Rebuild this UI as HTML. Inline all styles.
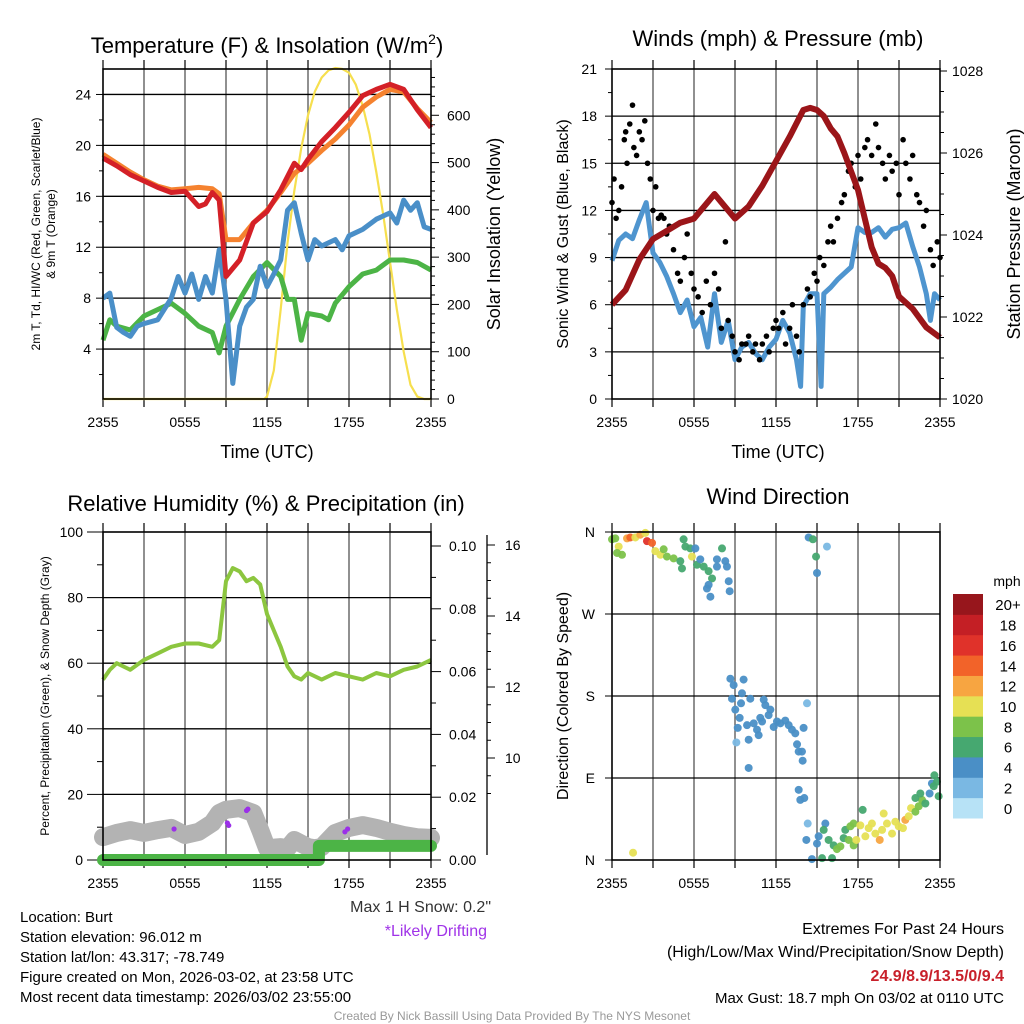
<!DOCTYPE html>
<html><head><meta charset="utf-8"><style>
html,body{margin:0;padding:0;background:#fff;}
svg{display:block;font-family:"Liberation Sans",Arial,sans-serif;}
</style></head><body>
<svg id="root" width="1024" height="1024" viewBox="0 0 1024 1024" xmlns="http://www.w3.org/2000/svg">
<rect width="1024" height="1024" fill="#fff"/>
</svg>
<script>
// ---------- DATA ----------
const tempT=[0,1,2,3,4,5,6,7,7.5,8,8.5,9,10,11,12,13,14,14.5,15,16,17,18,19,20,21,22,23,24];
const tempV=[19.0,18.4,17.7,17.2,16.7,16.3,16.4,15.2,15.4,16.3,15.7,9.7,11.0,13.9,14.8,16.5,18.6,18.1,18.9,20.3,21.4,22.6,23.9,24.4,24.8,24.4,22.8,21.4];
const t9T=[0,1,2,3,4,5,6,7,8,8.5,9,10,11,12,13,14,15,16,17,18,19,20,21,22,23,24];
const t9V=[19.3,18.6,17.9,17.3,16.8,16.5,16.6,16.7,16.6,16.2,12.6,12.6,13.9,14.9,16.3,17.8,18.6,19.6,20.5,21.6,23.0,23.8,24.4,24.2,22.9,21.8];
const tdT=[0,0.5,1,1.5,2,2.5,3,4,5,5.5,6,6.5,7,7.5,8,8.5,9,9.5,10,10.5,11,11.5,12,12.5,13,13.5,14,14.5,15,15.5,16,17,17.5,18,19,20,21,21.5,22,22.5,23,23.5,24];
const tdV=[8.0,8.4,5.7,5.3,5.0,5.8,6.0,6.3,8.0,9.7,8.4,9.9,7.9,9.7,8.4,11.8,7.9,1.3,5.8,7.3,7.9,10.5,8.9,9.9,11.0,14.9,15.5,13.1,11.0,12.6,12.1,12.6,11.8,12.9,13.4,14.2,14.7,13.9,15.7,14.9,15.5,13.6,13.4];
const hiT=[0,0.5,1,2,3,4,5,6,7,8,8.5,9,10,11,12,13,13.5,14,14.5,15,16,16.5,17,18,19,20,21,22,23,24];
const hiV=[4.7,6.3,5.8,5.5,6.6,7.1,7.6,6.8,5.8,5.3,3.7,5.8,7.9,9.7,10.8,9.7,7.9,7.9,4.7,6.8,6.6,6.3,7.6,8.9,9.9,10.2,11.0,11.0,10.8,10.2];
const solT=[0,11.8,12,12.5,13,13.5,14,14.5,15,15.5,16,16.5,17,17.5,18,18.5,19,19.5,20,20.5,21,21.5,22,22.5,23,23.5,24];
const solV=[0,0,5,60,190,330,440,530,600,650,680,695,700,698,690,665,620,560,480,390,290,190,100,30,5,0,0];
const presT=[0,1,2,3,4,5,6,7,7.5,8,9,10,11,12,13,14,14.5,15,15.5,16,16.5,17,18,18.5,19,19.5,20,20.5,21,22,23,24];
const presV=[1022.3,1022.66,1023.4,1023.9,1024.1,1024.3,1024.4,1024.8,1025.0,1024.8,1024.4,1024.7,1025.2,1025.8,1026.4,1027.05,1027.1,1027.05,1026.9,1026.6,1026.4,1026.0,1025.1,1024.4,1023.7,1023.3,1023.2,1023.0,1022.5,1022.2,1021.75,1021.5];
const windT=[0,0.5,1,1.5,2,2.5,3,3.5,4,4.5,5,5.5,6,6.5,7,7.5,8,8.5,9,9.5,10,10.5,11,11.5,12,12.5,13,13.5,13.8,14,14.5,15,15.3,15.5,16,16.5,17,17.5,18,18.5,19,19.5,20,20.5,21,21.5,22,22.5,23,23.3,23.6,24];
const windV=[8.8,10.1,10.5,10.2,11.4,12.5,9.3,8.7,7.8,6.7,5.5,6.3,4.6,5.2,3.3,6.7,3.6,5.0,2.5,3.3,3.6,2.9,2.5,3.3,3.8,5.0,4.2,2.5,0.8,5.9,6.7,6.7,0.8,6.7,7.1,7.6,8.0,8.4,10.9,10.6,10.6,10.9,10.3,10.8,10.9,11.2,9.7,8.4,6.7,5.0,6.7,6.3];
const gustT=[0,0.15,0.3,0.5,0.7,0.9,1.0,1.1,1.3,1.5,1.6,1.8,2.0,2.2,2.4,2.6,2.8,3.0,3.2,3.4,3.6,3.8,4.0,4.2,4.5,4.8,5.0,5.3,5.5,5.8,6.0,6.3,6.6,6.9,7.2,7.5,7.8,8.0,8.3,8.5,8.8,9.0,9.3,9.5,9.8,10.0,10.3,10.5,10.8,11.0,11.3,11.5,11.8,12.0,12.2,12.5,12.7,13.0,13.2,13.5,13.7,14.0,14.3,14.5,14.8,15.0,15.2,15.5,15.8,16.0,16.2,16.5,16.8,17.0,17.3,17.5,17.8,18.0,18.2,18.5,18.7,19.0,19.3,19.5,19.8,20.0,20.3,20.5,20.8,21.0,21.3,21.5,21.8,22.0,22.3,22.5,22.8,23.0,23.3,23.5,23.8,24.0];
const gustV=[12.5,14,11.5,12,13.5,16.5,17,15,17.5,18.7,16,15.5,17,16.5,17.7,15,14,12,13.5,11.5,11.7,11.5,10.5,11,9.5,8,7.5,9,10.5,8,7,6.5,5.5,7.5,6,8,7,4.5,10,5,4,3,2.5,3.5,3.5,4,3,3.5,2.5,3.5,4,3,4.5,5,4.5,5.5,3.5,4.5,6,4,3,6,7,6.5,8,7.5,9,8.5,10,11,10,11.5,12.5,13,14.5,15,13.5,15.5,14,16,16.5,15.5,17.5,16,15,14,15.5,14.5,15,13,16.5,15,14,15.5,13,12.5,11,12,9.5,8.5,10,9];
const rhT=[0,0.5,1,2,3,4,5,6,7,8,8.5,9,9.5,10,10.5,11,11.5,12,12.5,13,13.5,14,14.5,15,16,17,18,19,20,21,22,23,24];
const rhV=[55,58,60,58,61,63,65,66,66,65,67,85,89,88,85,86,84,75,70,65,59,56,55,57,55,57,56,55,57,56,58,59,61];
const snowT=[0,1,2,3,4,5,6,7,8,8.5,9,10,11,11.5,12,13,13.5,14,15,15.5,16,17,18,19,20,21,22,23,24];
const snowV=[7.77,7.89,7.97,7.89,7.97,8.03,7.83,7.92,8.17,8.45,8.54,8.59,8.45,7.97,7.46,7.49,7.46,7.69,7.49,7.46,7.49,7.89,8.03,8.11,8.03,7.92,7.83,7.77,7.75];
const precipT=[0,15.8,15.8,24];
const precipV=[0,0,0.0045,0.0045];
const driftT=[5.2,9.1,9.2,10.5,10.6,17.7,17.9];
const driftV=[8.0,8.17,8.1,8.52,8.56,7.92,8.0];
const dirT=[0,0.24,0.49,0.37,0.73,1.1,1.34,1.71,2.07,2.44,2.56,2.93,3.17,3.54,3.78,4.02,4.51,5.0,5.24,5.37,5.73,6.1,5.85,6.22,6.46,6.71,7.07,7.32,7.07,7.2,6.95,7.68,8.05,8.29,8.41,8.54,8.61,7.68,5.12,
14.39,14.7,14.93,15.0,15.73,1.54,
8.66,8.9,9.63,9.51,10.12,8.78,9.44,9.02,9.34,9.2,9.88,10.37,10.61,10.85,11.1,11.22,11.46,11.59,10.98,11.83,12.07,12.32,12.68,12.93,13.17,13.41,14.02,13.54,13.66,13.9,13.95,14.27,9.1,10.0,10.73,10.0,
13.66,13.78,14.07,14.32,14.22,14.63,15.0,15.37,16.1,15.12,15.61,15.49,15.85,16.22,16.46,16.71,16.95,17.07,17.32,17.44,17.68,17.68,17.88,18.17,18.34,18.54,18.78,19.02,19.27,19.59,19.76,19.88,20.12,20.49,20.73,20.98,21.29,21.46,21.71,21.88,22.2,22.44,22.68,22.93,23.24,23.41,23.59,23.78,23.9,22.2,22.56,23.54];
const dirV=[352,353,344,337,335,353,354,354,357,359,350,348,339,335,341,333,331,328,352,344,342,342,333,324,330,322,317,309,302,289,298,322,342,328,322,306,295,330,320,
354,352,333,315,344,8,
199,192,198,183,177,177,172,165,156,145,148,150,143,156,176,170,159,165,152,146,152,150,153,148,143,139,145,127,119,119,109,172,129,101,137,132,
77,66,68,40,22,1,18,2,2,26,40,33,22,16,12,15,24,33,22,37,40,16,22,38,55,26,35,40,29,22,33,51,40,29,42,37,35,44,48,57,53,59,66,62,73,84,93,86,70,68,73,81];
const dirS=[8,7,10,8,8,12,13,10,11,10,15,13,10,9,8,8,8,6,5,6,6,4,9,6,4,6,6,6,3,3,3,4,6,4,3,3,3,4,6,
3,6,6,4,1,10,
3,4,3,4,4,3,4,3,3,3,3,3,4,3,3,3,4,3,4,3,4,4,4,4,4,4,3,3,3,3,3,1,2,3,3,3,
3,3,3,1,3,4,4,6,6,4,4,6,6,6,7,8,6,6,8,8,8,8,10,10,6,10,10,10,10,12,10,10,10,10,10,10,10,12,10,10,8,7,8,6,4,4,6,6,6,6,6,5];
const speedLabels=["0","2","4","6","8","10","12","14","16","18","20+"];
const speedColors=["#b7e2f6","#7ab8e3","#4a8fc6","#46a870","#7cc24a","#e6e054","#f7a541","#f26329","#e0322a","#c41f25","#97161c"];
const timeLabels=["2355","0555","1155","1755","2355"];

// ---------- HELPERS ----------
const NS="http://www.w3.org/2000/svg";
const root=document.getElementById('root');
function mk(tag,attrs,parent,name){
  const e=document.createElementNS(NS,tag);
  for(const k in attrs)e.setAttribute(k,attrs[k]);
  
  
  (parent||root).appendChild(e);return e;
}
function txt(x,y,s,size,anchor,parent,name,extra){
  const a={x:x,y:y,'font-size':size,'text-anchor':anchor||'start',fill:'#000'};
  if(extra)for(const k in extra)a[k]=extra[k];
  const e=mk('text',a,parent,name);e.textContent=s;return e;
}
function linScale(d0,d1,r0,r1){return v=>r0+(v-d0)*(r1-r0)/(d1-d0);}
function pathD(ts,vs,sx,sy){let d='';for(let i=0;i<ts.length;i++){d+=(i?'L':'M')+sx(ts[i]).toFixed(1)+','+sy(vs[i]).toFixed(1);}return d;}

function frame(g,x0,y0,x1,y1,sx,hlines){
  for(let h=3;h<24;h+=3){
    mk('line',{x1:sx(h),y1:y0,x2:sx(h),y2:y1,stroke:'#555','stroke-width':1.3},g,'vertical-grid-line');
  }
  for(let h=0;h<=24;h+=3){
    mk('line',{x1:sx(h),y1:y0-9,x2:sx(h),y2:y0,stroke:'#000','stroke-width':1.2},g,'top-tick');
    mk('line',{x1:sx(h),y1:y1,x2:sx(h),y2:y1+8,stroke:'#000','stroke-width':1.2},g,'x-tick');
  }
  hlines.forEach(y=>mk('line',{x1:x0,y1:y,x2:x1,y2:y,stroke:'#000','stroke-width':1.3},g,'horizontal-grid-line'));
  for(let i=0;i<timeLabels.length;i++){
    txt(sx(i*6),y1+28,timeLabels[i],14,'middle',g,'x-tick-label');
  }
}
function border(g,x0,y0,x1,y1){
  mk('rect',{x:x0,y:y0,width:x1-x0,height:y1-y0,fill:'none',stroke:'#000','stroke-width':1.6},g,'plot-border');
}

// ---------- PANEL 1 ----------
(function(){
  const g=mk('g',{},root,'temperature-panel');
  const X0=103,X1=431,Y0=69,Y1=399;
  const sx=linScale(0,24,X0,X1), sy=linScale(0,26,400,69), ss=linScale(0,700,399,68);
  const hl=[4,8,12,16,20,24].map(sy);
  frame(g,X0,Y0,X1,Y1,sx,hl);
  [4,8,12,16,20,24].forEach(v=>{txt(X0-12,sy(v)+5,String(v),14,'end',g,'left-tick-label');mk('line',{x1:X0-7,y1:sy(v),x2:X0,y2:sy(v),stroke:'#000'},g,'left-tick');});
  for(let v=2;v<26;v+=4)mk('line',{x1:X0-4,y1:sy(v),x2:X0,y2:sy(v),stroke:'#000'},g,'left-minor-tick');
  [0,100,200,300,400,500,600].forEach(v=>{txt(X1+16,ss(v)+5,String(v),14,'start',g,'right-tick-label');mk('line',{x1:X1,y1:ss(v),x2:X1+8,y2:ss(v),stroke:'#000'},g,'right-tick');});
  for(let v=20;v<700;v+=20)if(v%100)mk('line',{x1:X1,y1:ss(v),x2:X1+4,y2:ss(v),stroke:'#000'},g,'right-minor-tick');
  mk('path',{d:pathD(solT,solV,sx,ss),fill:'none',stroke:'#f6df4e','stroke-width':2.2},g,'solar-insolation-line');
  mk('path',{d:pathD(hiT,hiV,sx,sy),fill:'none',stroke:'#4cb446','stroke-width':5,'stroke-linejoin':'round'},g,'heat-index-wind-chill-line');
  mk('path',{d:pathD(tdT,tdV,sx,sy),fill:'none',stroke:'#4a8fc8','stroke-width':5,'stroke-linejoin':'round'},g,'dewpoint-line');
  mk('path',{d:pathD(t9T,t9V,sx,sy),fill:'none',stroke:'#f5822f','stroke-width':5,'stroke-linejoin':'round'},g,'9m-temperature-line');
  mk('path',{d:pathD(tempT,tempV,sx,sy),fill:'none',stroke:'#d42027','stroke-width':5,'stroke-linejoin':'round'},g,'2m-temperature-line');
  border(g,X0,Y0,X1,Y1);
  const t=txt(267,53,'Temperature (F) & Insolation (W/m',22,'middle',g,'panel-title');
  const sup=document.createElementNS(NS,'tspan');sup.setAttribute('dy','-9');sup.setAttribute('font-size','14');sup.textContent='2';t.appendChild(sup);
  const cl=document.createElementNS(NS,'tspan');cl.setAttribute('dy','9');cl.textContent=')';t.appendChild(cl);
  txt(267,458,'Time (UTC)',18,'middle',g,'x-axis-title');
  txt(0,0,'2m T, Td, HI/WC (Red, Green, Scarlet/Blue)',12,'middle',g,'left-axis-title',{transform:'translate(40,234) rotate(-90)'});
  txt(0,0,'& 9m T (Orange)',12,'middle',g,'left-axis-title-line2',{transform:'translate(55,234) rotate(-90)'});
  txt(0,0,'Solar Insolation (Yellow)',18,'middle',g,'right-axis-title',{transform:'translate(500,234) rotate(-90)'});
})();

// ---------- PANEL 2 ----------
(function(){
  const g=mk('g',{},root,'winds-panel');
  const X0=612,X1=940,Y0=69,Y1=399;
  const sx=linScale(0,24,X0,X1), sy=linScale(0,21,399,69), sp=linScale(1020,1028,399,71);
  const hl=[3,6,9,12,15,18].map(sy);
  frame(g,X0,Y0,X1,Y1,sx,hl);
  [0,3,6,9,12,15,18,21].forEach(v=>{txt(X0-15,sy(v)+5,String(v),14,'end',g,'left-tick-label');mk('line',{x1:X0-7,y1:sy(v),x2:X0,y2:sy(v),stroke:'#000'},g,'left-tick');});
  for(let v=1.5;v<21;v+=3)mk('line',{x1:X0-4,y1:sy(v),x2:X0,y2:sy(v),stroke:'#000'},g,'left-minor-tick');
  [1020,1022,1024,1026,1028].forEach(v=>{txt(X1+12,sp(v)+5,String(v),14,'start',g,'right-tick-label');mk('line',{x1:X1,y1:sp(v),x2:X1+7,y2:sp(v),stroke:'#000'},g,'right-tick');});
  for(let v=1020.5;v<1028;v+=0.5)if(v%2)mk('line',{x1:X1,y1:sp(v),x2:X1+4,y2:sp(v),stroke:'#000'},g,'right-minor-tick');
  mk('path',{d:pathD(windT,windV,sx,sy),fill:'none',stroke:'#4f95cf','stroke-width':5,'stroke-linejoin':'round'},g,'sonic-wind-line');
  for(let i=0;i<gustT.length;i++){
    mk('circle',{cx:sx(gustT[i]),cy:sy(gustV[i]),r:2.8,fill:'#000'},g,'gust-point');
  }
  mk('path',{d:pathD(presT,presV,sx,sp),fill:'none',stroke:'#9b1519','stroke-width':6,'stroke-linejoin':'round'},g,'pressure-line');
  border(g,X0,Y0,X1,Y1);
  txt(778,46,'Winds (mph) & Pressure (mb)',22,'middle',g,'panel-title');
  txt(778,458,'Time (UTC)',18,'middle',g,'x-axis-title');
  txt(0,0,'Sonic Wind & Gust (Blue, Black)',16,'middle',g,'left-axis-title',{transform:'translate(568,234) rotate(-90)'});
  txt(0,0,'Station Pressure (Maroon)',18,'middle',g,'right-axis-title',{transform:'translate(1020,234) rotate(-90)'});
})();

// ---------- PANEL 3 ----------
(function(){
  const g=mk('g',{},root,'humidity-panel');
  const X0=103,X1=431,Y0=532,Y1=860;
  const sx=linScale(0,24,X0,X1), sy=linScale(0,100,860,532), sr=linScale(0,0.1,860,546), sn=linScale(10,16,758,545);
  const hl=[20,40,60,80].map(sy);
  frame(g,X0,Y0,X1,Y1,sx,hl);
  [0,20,40,60,80,100].forEach(v=>{txt(X0-20,sy(v)+5,String(v),14,'end',g,'left-tick-label');mk('line',{x1:X0-16,y1:sy(v),x2:X0,y2:sy(v),stroke:'#000'},g,'left-tick');});
  for(let v=10;v<100;v+=20)mk('line',{x1:X0-6,y1:sy(v),x2:X0,y2:sy(v),stroke:'#000'},g,'left-minor-tick');
  ['0.00','0.02','0.04','0.06','0.08','0.10'].forEach((s,i)=>{const v=i*0.02;txt(X1+18,sr(v)+5,s,14,'start',g,'precip-tick-label');mk('line',{x1:X1,y1:sr(v),x2:X1+10,y2:sr(v),stroke:'#000'},g,'precip-tick');});
  for(let v=0.01;v<0.1;v+=0.02)mk('line',{x1:X1,y1:sr(v),x2:X1+5,y2:sr(v),stroke:'#000'},g,'precip-minor-tick');
  mk('line',{x1:487,y1:535,x2:487,y2:855,stroke:'#000','stroke-width':1.3},g,'snow-depth-axis');
  [10,12,14,16].forEach(v=>{txt(505,sn(v)+5,String(v),14,'start',g,'snow-tick-label');mk('line',{x1:487,y1:sn(v),x2:495,y2:sn(v),stroke:'#000'},g,'snow-tick');});
  for(let v=9;v<16.5;v+=0.5)if(v%2)mk('line',{x1:487,y1:sn(v),x2:491,y2:sn(v),stroke:'#000'},g,'snow-minor-tick');
  mk('path',{d:pathD(snowT,snowV,sx,sn),fill:'none',stroke:'#b3b3b3','stroke-width':18,'stroke-linejoin':'round','stroke-linecap':'round'},g,'snow-depth-line');
  for(let i=0;i<driftT.length;i++)mk('circle',{cx:sx(driftT[i]),cy:sn(driftV[i]),r:2.6,fill:'#9b30e8'},g,'drifting-point');
  mk('path',{d:pathD(precipT,precipV,sx,sr),fill:'none',stroke:'#4cb446','stroke-width':12,'stroke-linecap':'round','stroke-linejoin':'round'},g,'precipitation-line');
  mk('path',{d:pathD(rhT,rhV,sx,sy),fill:'none',stroke:'#8cc63f','stroke-width':4,'stroke-linejoin':'round'},g,'relative-humidity-line');
  border(g,X0,Y0,X1,Y1);
  txt(266,511,'Relative Humidity (%) & Precipitation (in)',22,'middle',g,'panel-title');
  txt(0,0,'Percent, Precipitation (Green), & Snow Depth (Gray)',12,'middle',g,'left-axis-title',{transform:'translate(49,696) rotate(-90)'});
  txt(491,912,'Max 1 H Snow: 0.2"',16,'end',g,'max-snow-note',{fill:'#333'});
  txt(487,936,'*Likely Drifting',16,'end',g,'drifting-note',{fill:'#a033e8'});
})();

// ---------- PANEL 4 ----------
(function(){
  const g=mk('g',{},root,'wind-direction-panel');
  const X0=612,X1=940,Y0=532,Y1=860;
  const sx=linScale(0,24,X0,X1), sy=linScale(0,360,860,532);
  const hl=[90,180,270].map(sy);
  frame(g,X0,Y0,X1,Y1,sx,hl);
  [['N',0],['E',90],['S',180],['W',270],['N',360]].forEach(p=>{txt(X0-17,sy(p[1])+5,p[0],14,'end',g,'direction-tick-label');mk('line',{x1:X0-7,y1:sy(p[1]),x2:X0,y2:sy(p[1]),stroke:'#000'},g,'direction-tick');});
  for(let i=0;i<dirT.length;i++){
    const ci=Math.min(10,Math.max(0,Math.round(dirS[i]/2)));
    mk('circle',{cx:sx(dirT[i]),cy:sy(dirV[i]),r:4,fill:speedColors[ci],'fill-opacity':0.95},g,'wind-direction-point');
  }
  border(g,X0,Y0,X1,Y1);
  txt(778,504,'Wind Direction',22,'middle',g,'panel-title');
  txt(0,0,'Direction (Colored By Speed)',16,'middle',g,'left-axis-title',{transform:'translate(568,696) rotate(-90)'});
  const cb=mk('g',{},g,'speed-colorbar');
  const h=(818-594)/11;
  for(let i=0;i<11;i++){
    const y=818-(i+1)*h;
    mk('rect',{x:953,y:y,width:30,height:h+0.5,fill:speedColors[i]},cb,'colorbar-swatch');
    txt(1008,y+h/2+6,speedLabels[i],15,'middle',cb,'colorbar-label');
  }
  txt(1007,586,'mph',14,'middle',cb,'colorbar-title');
})();

// ---------- FOOTER TEXT ----------
const info=["Location: Burt","Station elevation: 96.012 m","Station lat/lon: 43.317; -78.749","Figure created on Mon, 2026-03-02, at 23:58 UTC","Most recent data timestamp: 2026/03/02 23:55:00"];
info.forEach((s,i)=>txt(20,922+i*20,s,15,'start',root,'station-info-line'));
txt(1004,934,'Extremes For Past 24 Hours',16,'end',root,'extremes-title');
txt(1004,957,'(High/Low/Max Wind/Precipitation/Snow Depth)',16,'end',root,'extremes-subtitle');
txt(1004,981,'24.9/8.9/13.5/0/9.4',16,'end',root,'extremes-values',{fill:'#c8202a','font-weight':'bold'});
txt(1004,1003,'Max Gust: 18.7 mph On 03/02 at 0110 UTC',15,'end',root,'max-gust-note');
txt(512,1020,'Created By Nick Bassill Using Data Provided By The NYS Mesonet',12,'middle',root,'credit-footer',{fill:'#999'});
</script>
</body></html>
